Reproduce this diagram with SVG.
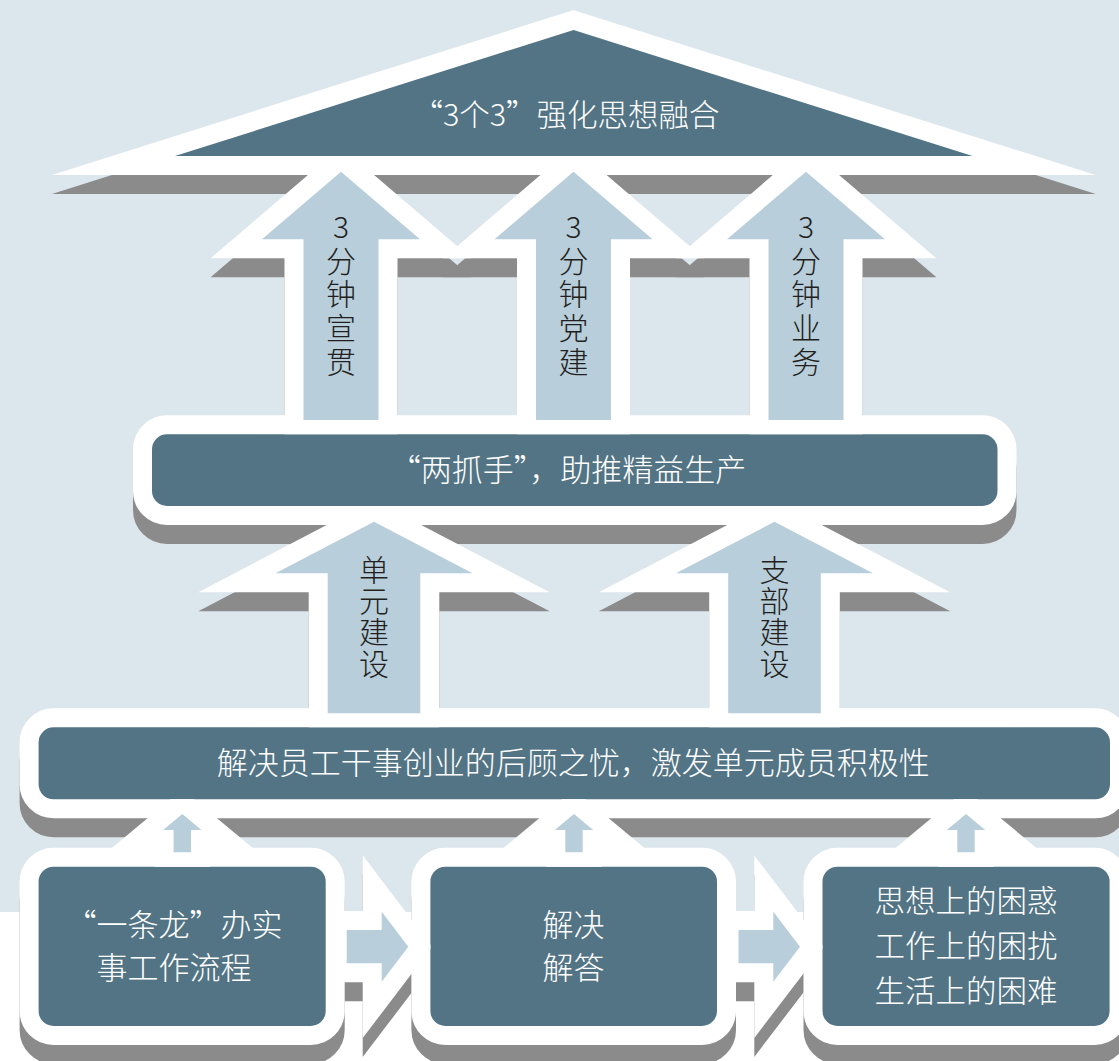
<svg xmlns="http://www.w3.org/2000/svg" xmlns:xlink="http://www.w3.org/1999/xlink" width="1119" height="1061" viewBox="0 0 1119 1061">
<style>
.sh{fill:#8b8b8b;stroke:#8b8b8b;stroke-width:38;stroke-linejoin:miter;stroke-miterlimit:20}
.nd{fill:#537485;stroke:#fff;stroke-width:38;stroke-linejoin:miter;stroke-miterlimit:20;paint-order:stroke}
.ar{fill:#b8cedb;stroke:#fff;stroke-width:38;stroke-linejoin:miter;stroke-miterlimit:20;paint-order:stroke}
.t{font-family:"Noto Sans CJK SC","Noto Sans",sans-serif;font-weight:300;fill:#fff;font-size:31px;text-anchor:middle}
.v{font-family:"Noto Sans CJK SC","Noto Sans",sans-serif;font-weight:300;fill:#231f20;font-size:30px;text-anchor:middle}
</style>
<defs>
<polygon id="roofShape" points="573.6,30 972.5,156 175,156"/>
<rect id="bar1Shape" x="152" y="434.3" width="845.5" height="71.7" rx="15"/>
<rect id="bar2Shape" x="38.6" y="727.3" width="1071.4" height="72" rx="15"/>
<rect id="box1Shape" x="38.6" y="866.7" width="287.1" height="159.3" rx="15"/>
<rect id="box2Shape" x="430.4" y="866.7" width="286.6" height="159.3" rx="15"/>
<rect id="box3Shape" x="822.5" y="866.7" width="287.1" height="159.3" rx="15"/>
<polygon id="a1" points="341,171.7 420,239.3 378.5,239.3 378.5,420 303.5,420 303.5,239.3 262,239.3"/>
<polygon id="a2" points="573.5,171.7 652.5,239.3 611,239.3 611,420 536,420 536,239.3 494.5,239.3"/>
<polygon id="a3" points="806,171.7 885,239.3 843.5,239.3 843.5,420 768.5,420 768.5,239.3 727,239.3"/>
<polygon id="a4" points="374,521.7 472.5,573.3 420.3,573.3 420.3,713.3 327.7,713.3 327.7,573.3 275.5,573.3"/>
<polygon id="a5" points="774.5,521.7 873,573.3 820.8,573.3 820.8,713.3 728.2,713.3 728.2,573.3 676,573.3"/>
<polygon id="s1" points="182.3,814 201.5,830 191,830 191,852.3 173.6,852.3 173.6,830 163.1,830"/>
<polygon id="s2" points="574,814 593.2,830 582.7,830 582.7,852.3 565.3,852.3 565.3,830 554.8,830"/>
<polygon id="s3" points="966,814 985.2,830 974.7,830 974.7,852.3 957.3,852.3 957.3,830 946.8,830"/>
<polygon id="r1" points="346.7,930 381.7,930 381.7,911.7 408.3,946.7 381.7,981.7 381.7,963.3 346.7,963.3"/>
<polygon id="r2" points="738.5,930 773.3,930 773.3,911.7 800,946.7 773.3,981.7 773.3,963.3 738.5,963.3"/>
<clipPath id="cTop"><rect x="0" y="156" width="1119" height="278.3"/></clipPath>
<clipPath id="cMid"><rect x="0" y="506" width="1119" height="221.3"/></clipPath>
<clipPath id="cLow"><rect x="0" y="799.3" width="1119" height="67.4"/></clipPath>
<clipPath id="cR1"><rect x="325.7" y="840" width="104.7" height="221"/></clipPath>
<clipPath id="cR2"><rect x="717" y="840" width="105.5" height="221"/></clipPath>
</defs>

<rect id="page" x="0" y="0" width="1119" height="1061" fill="#ffffff"/>
<rect id="backdrop" x="0" y="0" width="1119" height="912" fill="#dce6ed"/>

<g id="shadows" transform="translate(0,19)">
<use xlink:href="#roofShape" class="sh"/>
<use xlink:href="#a1" class="sh"/>
<use xlink:href="#a2" class="sh"/>
<use xlink:href="#a3" class="sh"/>
<use xlink:href="#bar1Shape" class="sh"/>
<use xlink:href="#a4" class="sh"/>
<use xlink:href="#a5" class="sh"/>
<use xlink:href="#bar2Shape" class="sh"/>
<use xlink:href="#s1" class="sh"/>
<use xlink:href="#s2" class="sh"/>
<use xlink:href="#s3" class="sh"/>
<use xlink:href="#r1" class="sh"/>
<use xlink:href="#r2" class="sh"/>
<use xlink:href="#box1Shape" class="sh"/>
<use xlink:href="#box2Shape" class="sh"/>
<use xlink:href="#box3Shape" class="sh"/>
</g>

<g id="roof">
<use xlink:href="#roofShape" class="nd"/>
<text class="t" x="566" y="126" style="font-size:30.5px">“3个3”强化思想融合</text>
</g>

<g id="bar-lianzhuashou">
<use xlink:href="#bar1Shape" class="nd"/>
<text class="t" x="568" y="481">“两抓手”，助推精益生产</text>
</g>

<g id="bar-jiejue">
<use xlink:href="#bar2Shape" class="nd"/>
<text class="t" x="573.3" y="774">解决员工干事创业的后顾之忧，激发单元成员积极性</text>
</g>

<g id="box-yitiaolong">
<use xlink:href="#box1Shape" class="nd"/>
<text class="t" x="174" y="935.5">“一条龙”办实</text>
<text class="t" x="174" y="979">事工作流程</text>
</g>

<g id="box-jieda">
<use xlink:href="#box2Shape" class="nd"/>
<text class="t" x="573.5" y="935.5">解决</text>
<text class="t" x="573.5" y="979">解答</text>
</g>

<g id="box-kunhuo">
<use xlink:href="#box3Shape" class="nd"/>
<text class="t" x="966" y="911.5" style="font-size:30.5px">思想上的困惑</text>
<text class="t" x="966" y="957" style="font-size:30.5px">工作上的困扰</text>
<text class="t" x="966" y="1002" style="font-size:30.5px">生活上的困难</text>
</g>

<g id="connectors">
<g id="arrow-xuanguan">
<use xlink:href="#a1" class="ar" clip-path="url(#cTop)"/>
<text class="v" x="341" y="238">3</text>
<text class="v" x="341" y="271.5">分</text>
<text class="v" x="341" y="305">钟</text>
<text class="v" x="341" y="339">宣</text>
<text class="v" x="341" y="373">贯</text>
</g>
<g id="arrow-dangjian">
<use xlink:href="#a2" class="ar" clip-path="url(#cTop)"/>
<text class="v" x="573.5" y="238">3</text>
<text class="v" x="573.5" y="271.5">分</text>
<text class="v" x="573.5" y="305">钟</text>
<text class="v" x="573.5" y="339">党</text>
<text class="v" x="573.5" y="373">建</text>
</g>
<g id="arrow-yewu">
<use xlink:href="#a3" class="ar" clip-path="url(#cTop)"/>
<text class="v" x="806" y="238">3</text>
<text class="v" x="806" y="271.5">分</text>
<text class="v" x="806" y="305">钟</text>
<text class="v" x="806" y="339">业</text>
<text class="v" x="806" y="373">务</text>
</g>
<g id="arrow-danyuan">
<use xlink:href="#a4" class="ar" clip-path="url(#cMid)"/>
<text class="v" x="374" y="581">单</text>
<text class="v" x="374" y="612.2">元</text>
<text class="v" x="374" y="643.3">建</text>
<text class="v" x="374" y="674.5">设</text>
</g>
<g id="arrow-zhibu">
<use xlink:href="#a5" class="ar" clip-path="url(#cMid)"/>
<text class="v" x="774.5" y="581">支</text>
<text class="v" x="774.5" y="612.2">部</text>
<text class="v" x="774.5" y="643.3">建</text>
<text class="v" x="774.5" y="674.5">设</text>
</g>
<g id="arrow-up-1"><use xlink:href="#s1" class="ar" clip-path="url(#cLow)"/></g>
<g id="arrow-up-2"><use xlink:href="#s2" class="ar" clip-path="url(#cLow)"/></g>
<g id="arrow-up-3"><use xlink:href="#s3" class="ar" clip-path="url(#cLow)"/></g>
<g id="arrow-right-1"><use xlink:href="#r1" class="ar" clip-path="url(#cR1)"/></g>
<g id="arrow-right-2"><use xlink:href="#r2" class="ar" clip-path="url(#cR2)"/></g>
</g>
</svg>
